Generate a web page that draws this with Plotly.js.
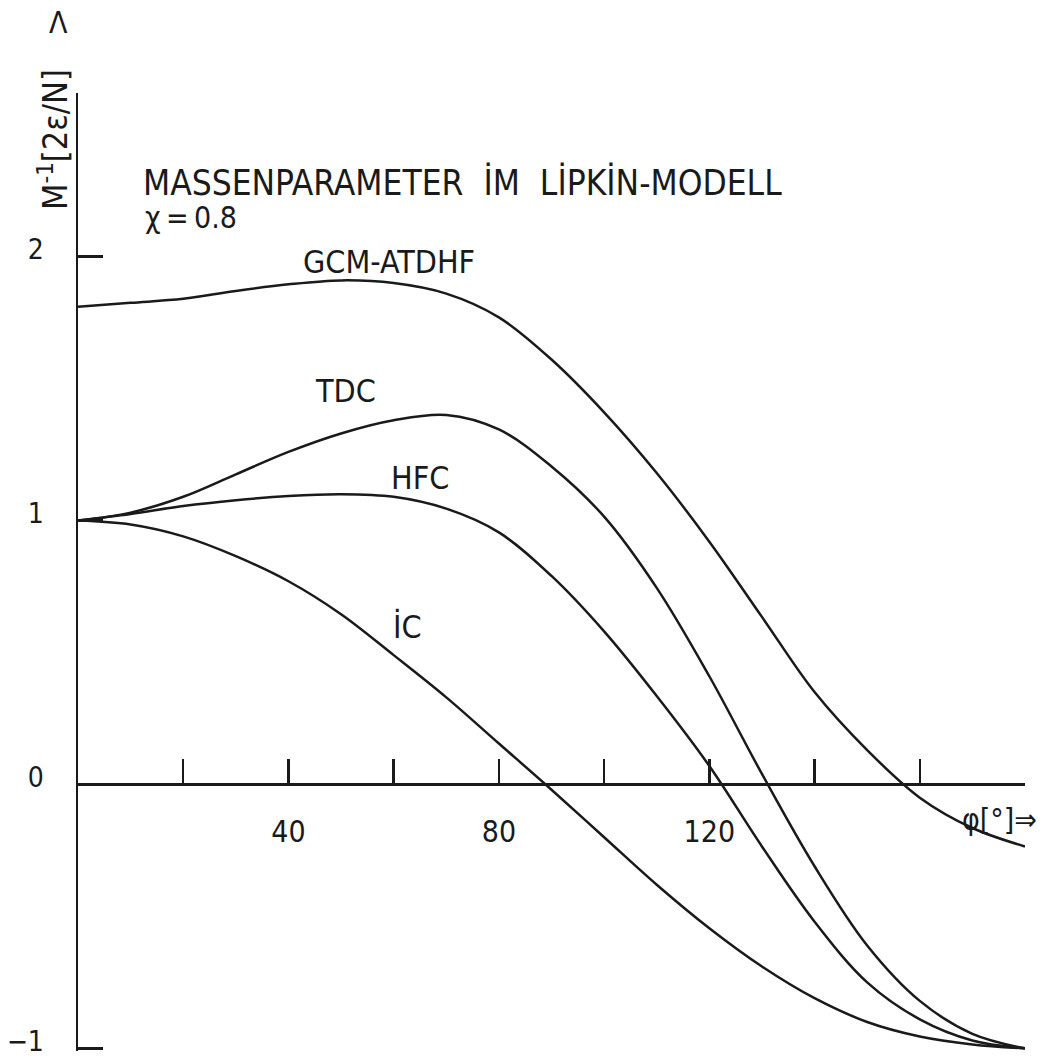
<!DOCTYPE html>
<html>
<head>
<meta charset="utf-8">
<script src="https://cdn.plot.ly/plotly-3.0.1.min.js"></script>
<style>
  html, body { margin: 0; padding: 0; background: #fff; }
  #chart { width: 1042px; height: 1064px; }
</style>
</head>
<body>
<div id="chart"></div>
<script>
// Angle phi in degrees
const phi = [0, 10, 20, 30, 40, 50, 60, 70, 80, 90, 100, 110, 120, 130, 140, 150, 160, 170, 180];

// Inverse mass parameter M^-1 [2eps/N] for chi = 0.8
const gcmAtdhf = [1.81, 1.825, 1.84, 1.87, 1.895, 1.91, 1.90, 1.86, 1.77, 1.61, 1.41, 1.18, 0.92, 0.635, 0.35, 0.13, -0.05, -0.165, -0.235];
const tdc      = [1.0, 1.03, 1.09, 1.175, 1.26, 1.33, 1.38, 1.40, 1.345, 1.205, 1.015, 0.745, 0.41, 0.04, -0.31, -0.61, -0.82, -0.945, -1.0];
const hfc      = [1.0, 1.025, 1.055, 1.077, 1.093, 1.10, 1.09, 1.045, 0.955, 0.79, 0.58, 0.335, 0.07, -0.235, -0.52, -0.75, -0.89, -0.97, -1.0];
const ic       = [1.0, 0.985, 0.94, 0.865, 0.77, 0.645, 0.49, 0.33, 0.155, -0.02, -0.20, -0.38, -0.545, -0.69, -0.81, -0.90, -0.955, -0.985, -1.0];

const seriesNames = ["GCM-ATDHF", "TDC", "HFC", "İC"];
const seriesValues = [gcmAtdhf, tdc, hfc, ic];

// Curve label positions (data coordinates)
const labelX = [59.1, 50.9, 65.0, 62.7];
const labelY = [1.98, 1.489, 1.163, 0.595];

// Axis ticks
const xTickVals = [40, 80, 120];
const xTickText = ["40", "80", "120"];
const xMinorStep = 20;
const yTickVals = [-1, 0, 1, 2];
const yTickText = ["−1", "0", "1", "2"];

const titleText = "MASSENPARAMETER\u00A0 İM\u00A0 LİPKİN-MODELL";
const paramText = "χ\u2009=\u20090.8";
const yTitleText = "M<sup>-1</sup>[2ε/N]";
const xTitleText = "φ[°]⇒";

const FONT = "Liberation Sans Narrow, DejaVu Sans Condensed, Arial Narrow, sans-serif";
const INK = "#1a1a1a";

const traces = seriesValues.map((vals, i) => ({
  type: "scatter",
  mode: "lines",
  name: seriesNames[i],
  x: phi,
  y: vals,
  line: { color: INK, width: 2.5, shape: "spline", smoothing: 1.0 },
  hoverinfo: "skip"
}));

const annotations = seriesNames.map((n, i) => ({
  text: n, x: labelX[i], y: labelY[i], xref: "x", yref: "y",
  xanchor: "center", yanchor: "middle",
  showarrow: false, font: { family: FONT, size: 32, color: INK }
}));

annotations.push({
  text: paramText, x: 12.4, y: 2.148, xref: "x", yref: "y",
  xanchor: "left", yanchor: "middle",
  showarrow: false, font: { family: FONT, size: 30, color: INK }
});
annotations.push({
  text: yTitleText, x: -0.0264, y: 0.952, xref: "paper", yref: "paper",
  xanchor: "center", yanchor: "middle",
  textangle: -90, showarrow: false, font: { family: FONT, size: 34, color: INK }
});
annotations.push({
  text: "Λ", x: -0.0211, y: 1.074, xref: "paper", yref: "paper",
  xanchor: "center", yanchor: "middle",
  showarrow: false, font: { family: FONT, size: 30, color: INK }
});
annotations.push({
  text: xTitleText, x: 0.9736, y: 0.2416, xref: "paper", yref: "paper",
  xanchor: "center", yanchor: "middle",
  showarrow: false, font: { family: FONT, size: 30, color: INK }
});

const layout = {
  width: 1042,
  height: 1064,
  margin: { l: 78, r: 17, t: 93, b: 13 },
  paper_bgcolor: "#ffffff",
  plot_bgcolor: "#ffffff",
  showlegend: false,
  title: {
    text: titleText,
    x: 0.0686, xref: "paper", xanchor: "left",
    y: 0.906, yref: "paper", yanchor: "middle",
    font: { family: FONT, size: 35, color: INK }
  },
  xaxis: {
    range: [0, 180],
    anchor: "free",
    position: 0.27824,
    showline: true, linewidth: 2.5, linecolor: INK,
    ticks: "inside", ticklen: 24, tickwidth: 2.5, tickcolor: INK,
    tickmode: "array", tickvals: xTickVals, ticktext: xTickText,
    minor: { dtick: xMinorStep, tick0: 0, ticks: "inside", ticklen: 24, tickwidth: 2.5, tickcolor: INK, showgrid: false },
    ticklabelstandoff: 20,
    tickfont: { family: FONT, size: 30, color: INK },
    showgrid: false, zeroline: false, fixedrange: true
  },
  yaxis: {
    range: [-1.01, 2.62],
    showline: true, linewidth: 2.5, linecolor: INK,
    ticks: "inside", ticklen: 25, tickwidth: 2.5, tickcolor: INK,
    tickmode: "array", tickvals: yTickVals, ticktext: yTickText,
    ticklabelstandoff: 26,
    ticklabelshift: -7,
    ticklabeloverflow: "allow",
    tickfont: { family: FONT, size: 28, color: INK },
    showgrid: false, zeroline: false, fixedrange: true
  },
  annotations: annotations
};

Plotly.newPlot("chart", traces, layout, { staticPlot: true, displayModeBar: false });
</script>
</body>
</html>
